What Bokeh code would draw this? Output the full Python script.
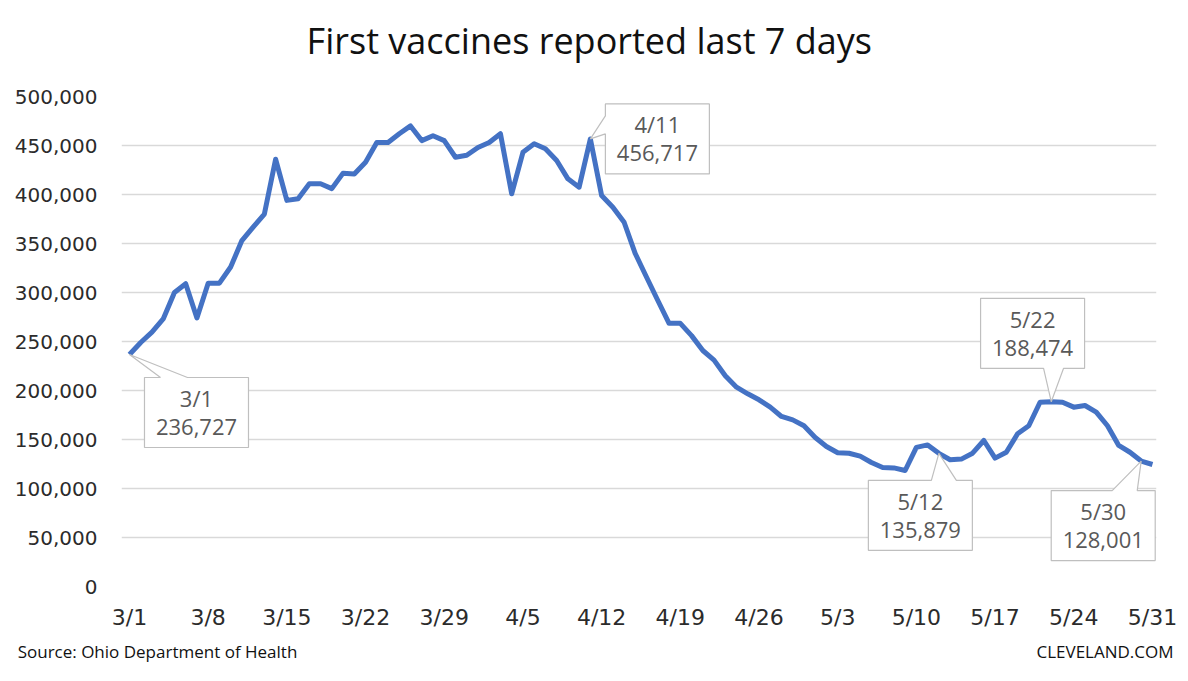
import numpy as np
from bokeh.plotting import figure
from bokeh.models import Range1d, FixedTicker, NumeralTickFormatter, LinearAxis
from bokeh.embed import file_html
from bokeh.resources import INLINE
from bokeh.core.properties import value

# ---------------- data ----------------
days = list(range(92))  # 0 = 3/1 ... 91 = 5/31
vaccines = [
    236727, 249000, 259500, 273000, 300000, 309000, 274000, 309500, 309500, 326000,
    353000, 366700, 380000, 436000, 394000, 395600, 411000, 411000, 406000, 421800,
    421000, 433000, 453000, 453000, 462000, 470000, 455000, 460000, 455000, 438000,
    440000, 448000, 453000, 462000, 400700, 443000, 451700, 446600, 434700, 416000,
    407500, 456717, 399000, 387000, 371700, 339500, 315600, 291800, 268500, 268500,
    256000, 240800, 231000, 215000, 203400, 196600, 190500, 183000, 173500, 170000,
    164000, 152000, 142900, 136500, 136000, 133000, 126500, 121500, 121000, 118400,
    142000, 144500, 135879, 129300, 130000, 136000, 149000, 131000, 137000, 155800,
    164000, 188000, 188474, 188000, 183000, 184700, 178000, 164000, 143900, 137000,
    128001, 124500,
]
tick_days = [0, 7, 14, 21, 28, 35, 42, 49, 56, 63, 70, 77, 84, 91]
tick_labels = ["3/1", "3/8", "3/15", "3/22", "3/29", "4/5", "4/12", "4/19",
               "4/26", "5/3", "5/10", "5/17", "5/24", "5/31"]
y_ticks = [0, 50000, 100000, 150000, 200000, 250000, 300000, 350000, 400000, 450000, 500000]

ann_days = [0, 41, 72, 82, 90]
ann_labels = ["3/1", "4/11", "5/12", "5/22", "5/30"]

title_text = "First vaccines reported  last 7 days"
source_text = "Source: Ohio Department of Health"
brand_text = "CLEVELAND.COM"

# ---------------- layout ----------------
W, H = 1188, 681
FL, FR, FT, FB = 121, 1156, 96, 586
X0, X1 = -0.71, 91.36
Y0, Y1 = 0, 500000


def px_to_x(px):
    return X0 + (px - FL) / (FR - FL) * (X1 - X0)


def py_to_y(py):
    return Y0 + (FB - py) / (FB - FT) * (Y1 - Y0)


def x_to_px(x):
    return FL + (x - X0) / (X1 - X0) * (FR - FL)


def y_to_py(y):
    return FB - (y - Y0) / (Y1 - Y0) * (FB - FT)


p = figure(width=W, height=H, output_backend="svg", toolbar_location=None,
           x_range=Range1d(X0, X1), y_range=Range1d(Y0, Y1),
           min_border_left=FL, min_border_right=W - FR,
           min_border_top=FT, min_border_bottom=H - FB)
p.outline_line_color = None
p.background_fill_color = "white"
p.border_fill_color = "white"

p.xgrid.visible = False
p.ygrid.grid_line_color = "#d9d9d9"
p.ygrid.grid_line_width = 1.5

p.yaxis.ticker = FixedTicker(ticks=y_ticks)
p.yaxis.formatter = NumeralTickFormatter(format="0,0")
p.xaxis.ticker = FixedTicker(ticks=tick_days)
p.xaxis.major_label_overrides = {d: l for d, l in zip(tick_days, tick_labels)}
for ax in (p.xaxis, p.yaxis):
    ax.axis_line_color = None
    ax.major_tick_line_color = None
    ax.minor_tick_line_color = None
    ax.major_label_text_font = "DejaVu Sans"
    ax.major_label_text_color = "#2b2b2b"
p.yaxis.major_label_text_font_size = "20px"
p.yaxis.major_label_standoff = 18
p.xaxis.major_label_text_font_size = "22px"
p.xaxis.major_label_standoff = 12

p.line(days, vaccines, line_color="#4472C4", line_width=5, line_join="round")

# ---------------- callouts ----------------
BW, BH = 104, 70
# (center offset dx, dy in px, side, wedge base a, b)
callout_style = [
    (67, 58, "top", 16, 43),
    (67, 0, "left", 12, 30),
    (-18.5, 62, "top", 63, 88),
    (-18.7, -68.5, "bottom", 63, 83),
    (-38, 64.5, "top", 61, 86),
]

xs, ys, tx, ty, tt = [], [], [], [], []
for d, lab, st in zip(ann_days, ann_labels, callout_style):
    v = vaccines[d]
    px0, py0 = x_to_px(d), y_to_py(v)
    dx, dy, side, a, b = st
    cx, cy = px0 + dx, py0 + dy
    l, r, t, btm = cx - BW / 2, cx + BW / 2, cy - BH / 2, cy + BH / 2
    pts = [(l, t)]
    if side == "top":
        pts += [(l + a, t), (px0, py0), (l + b, t)]
    pts += [(r, t), (r, btm)]
    if side == "bottom":
        pts += [(l + b, btm), (px0, py0), (l + a, btm)]
    pts += [(l, btm)]
    if side == "left":
        pts += [(l, t + b), (px0, py0), (l, t + a)]
    xs.append([px_to_x(q[0]) for q in pts])
    ys.append([py_to_y(q[1]) for q in pts])
    tx += [px_to_x(cx), px_to_x(cx)]
    ty += [py_to_y(cy - 14.5), py_to_y(cy + 14.5)]
    tt += [lab, f"{v:,}"]

p.patches(xs, ys, fill_color="white", line_color="#bfbfbf", line_width=1.2)
p.text(x=tx, y=ty, text=tt, text_font=value("Open Sans"), text_font_size="22px",
       text_color="#595959", text_align="center", text_baseline="middle")

# ---------------- title (centered text above the frame) ----------------
title_tick = [round(px_to_x(593.5), 4)]
title_axis = LinearAxis(
    ticker=FixedTicker(ticks=title_tick),
    major_label_overrides={title_tick[0]: title_text},
    axis_line_color=None, major_tick_line_color=None, minor_tick_line_color=None,
    major_label_text_font="Open Sans", major_label_text_font_size="36px",
    major_label_text_color="#111111", major_label_standoff=26)
p.add_layout(title_axis, "above")

# ---------------- footer (source left, brand right) ----------------
foot_ticks = [round(px_to_x(157), 4), round(px_to_x(1104.5), 4)]
foot_axis = LinearAxis(
    ticker=FixedTicker(ticks=foot_ticks),
    major_label_overrides={foot_ticks[0]: source_text, foot_ticks[1]: brand_text},
    axis_line_color=None, major_tick_line_color=None, minor_tick_line_color=None,
    major_label_text_font="Open Sans", major_label_text_font_size="17px",
    major_label_text_color="#111111", major_label_standoff=1)
p.add_layout(foot_axis, "below")

open("out.html", "w").write(file_html(p, INLINE))
